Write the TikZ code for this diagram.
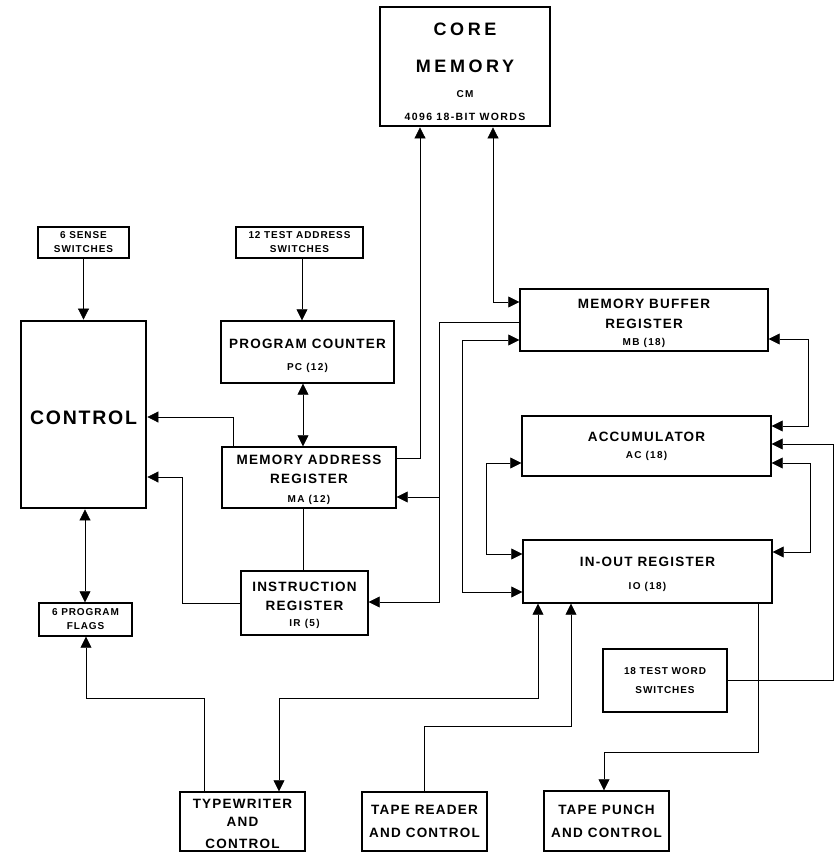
\documentclass[tikz,border=0pt]{standalone}
\usepackage{fontspec}
\usepackage{tikz}
\usetikzlibrary{arrows.meta,calc,positioning}
\newfontfamily\lbfont{Liberation Sans}[LetterSpace=9]
\newfontfamily\smlbfont{Liberation Sans}[LetterSpace=13]
\newfontfamily\cmlbfont{Liberation Sans}[LetterSpace=20]
\newcommand\regfont{\lbfont\bfseries\fontsize{13.5}{19}\selectfont}
\newcommand\smfont{\smlbfont\bfseries\fontsize{10}{12}\selectfont}
\newcommand\swfont{\lbfont\bfseries\fontsize{10}{14}\selectfont}
\newcommand\cmfont{\cmlbfont\bfseries\fontsize{18}{14}\selectfont}
\newcommand\ctrlfont{\lbfont\bfseries\fontsize{19.5}{24}\selectfont}
\newcommand\capstrut[1]{\rule{0pt}{#1}}
\tikzset{%
	block/.style     = {draw, rectangle, line width=1.4pt, inner sep=0pt, align=center, font=\regfont}, % register
	heavy/.style     = {block, line width=2.8pt}, % memory, control
	switchbox/.style = {block, font=\swfont}, % switches, flags
	link/.style      = {line width=0.7pt, >={Triangle[length=11pt,width=11pt]}},
}

\begin{document}
\begin{tikzpicture}[x=1pt, y=-1pt]
	\useasboundingbox (0,0) rectangle (836,853);
	% boxes
	\node[heavy, font=\swfont, minimum width=170pt, minimum height=119pt] (cm) at (465,66.5) {\cmfont\capstrut{23.5pt}CORE\\[23pt]\cmfont MEMORY\\[10.5pt]\smfont CM\\[9pt]\fontsize{10.5}{14}\smlbfont\bfseries 4096 18-BIT WORDS};
	\node[switchbox, minimum width=91pt, minimum height=31pt] (sense) at (83.5,242.5) {6 SENSE\\SWITCHES};
	\node[switchbox, minimum width=127pt, minimum height=31pt] (tas) at (299.5,242.5) {12 TEST ADDRESS\\SWITCHES};
	\node[heavy, font=\ctrlfont, minimum width=125pt, minimum height=187pt] (ctrl) at (83.5,414.5) {\capstrut{20.5pt}CONTROL};
	\node[block, minimum width=173pt, minimum height=62pt] (pc) at (307.5,352) {\capstrut{18pt}PROGRAM COUNTER\\[3pt]\smfont PC (12)};
	\node[block, minimum width=174pt, minimum height=61pt] (ma) at (309,477.5) {\capstrut{14pt}MEMORY ADDRESS\\REGISTER\\\smfont MA (12)};
	\node[block, minimum width=127pt, minimum height=64pt] (ir) at (304.5,603) {\capstrut{14pt}INSTRUCTION\\REGISTER\\[-3pt]\smfont IR (5)};
	\node[switchbox, minimum width=93pt, minimum height=33pt] (pf) at (85.5,619.5) {6 PROGRAM\\FLAGS};
	\node[block, minimum width=248pt, minimum height=62pt] (mb) at (644,320) {\capstrut{16pt}MEMORY BUFFER\\[1pt]REGISTER\\[-2pt]\smfont MB (18)};
	\node[block, minimum width=249pt, minimum height=60pt] (ac) at (646.5,446) {ACCUMULATOR\\[-2pt]\smfont AC (18)};
	\node[block, minimum width=249pt, minimum height=63pt] (io) at (647.5,571.5) {\capstrut{16pt}IN-OUT REGISTER\\[4pt]\smfont IO (18)};
	\node[switchbox, line width=2pt, minimum width=124pt, minimum height=63pt] (tws) at (665,680.5) {18 TEST WORD\\[5pt]SWITCHES};
	\node[block, minimum width=125pt, minimum height=59pt] (tw) at (242.5,821.5) {\capstrut{14pt}TYPEWRITER\\[-1pt]AND\\[3pt]CONTROL};
	\node[block, minimum width=125pt, minimum height=59pt] (tr) at (424.5,821.5) {TAPE READER\\[4pt]AND CONTROL};
	\node[block, minimum width=125pt, minimum height=60pt] (tp) at (606.5,821) {TAPE PUNCH\\[4pt]AND CONTROL};
	\coordinate (bus) at (439,497);

	% connectors
	\draw[link,->] (sense.south) -- (sense.south |- ctrl.north);
	\draw[link,->] (tas.south -| 302,0) -- (pc.north -| 302,0);
	\draw[link,<->] (pc.south -| 303,0) -- (ma.north -| 303,0);
	\draw[link] (ma.south -| 303,0) -- (ir.north -| 303,0);
	\draw[link,->] (ma.north -| 233,0) |- (ctrl.east |- 0,417);
	\draw[link,->] (ir.west) -| (182,477) -- (ctrl.east |- 0,477);
	\draw[link,<->] (ctrl.south -| 85,0) -- (pf.north -| 85,0);
	\draw[link,->] (tw.north -| 204,0) |- (86,698) -- (pf.south -| 86,0);
	\draw[link,<->] (io.south -| 538,0) |- (279,698) -- (tw.north -| 279,0);
	\draw[link,->] (tr.north -| 424,0) |- (571,726) -- (io.south -| 571,0);
	\draw[link,->] (io.south -| 758,0) |- (604,752) -- (tp.north -| 604,0);
	\draw[link,->] (tws.east) -| (833,444) -- (ac.east |- 0,444);
	\draw[link,<->] (mb.east |- 0,339) -| (808,426) -- (ac.east |- 0,426);
	\draw[link,<->] (ac.east |- 0,463) -| (810,552) -- (io.east |- 0,552);
	\draw[link,<->] (ac.west |- 0,463) -| (486,554) -- (io.west |- 0,554);
	\draw[link,<->] (mb.west |- 0,340) -| (462,592) -- (io.west |- 0,592);
	\draw[link,->] (mb.west |- 0,322) -| (439,602) -- (ir.east |- 0,602);
	\draw[link,->] (bus) -- (ma.east |- bus);
	\draw[link,->] (ma.east |- 0,458) -| (cm.south -| 420,0);
	\draw[link,<->] (cm.south -| 493,0) |- (mb.west |- 0,302);
\end{tikzpicture}
\end{document}
